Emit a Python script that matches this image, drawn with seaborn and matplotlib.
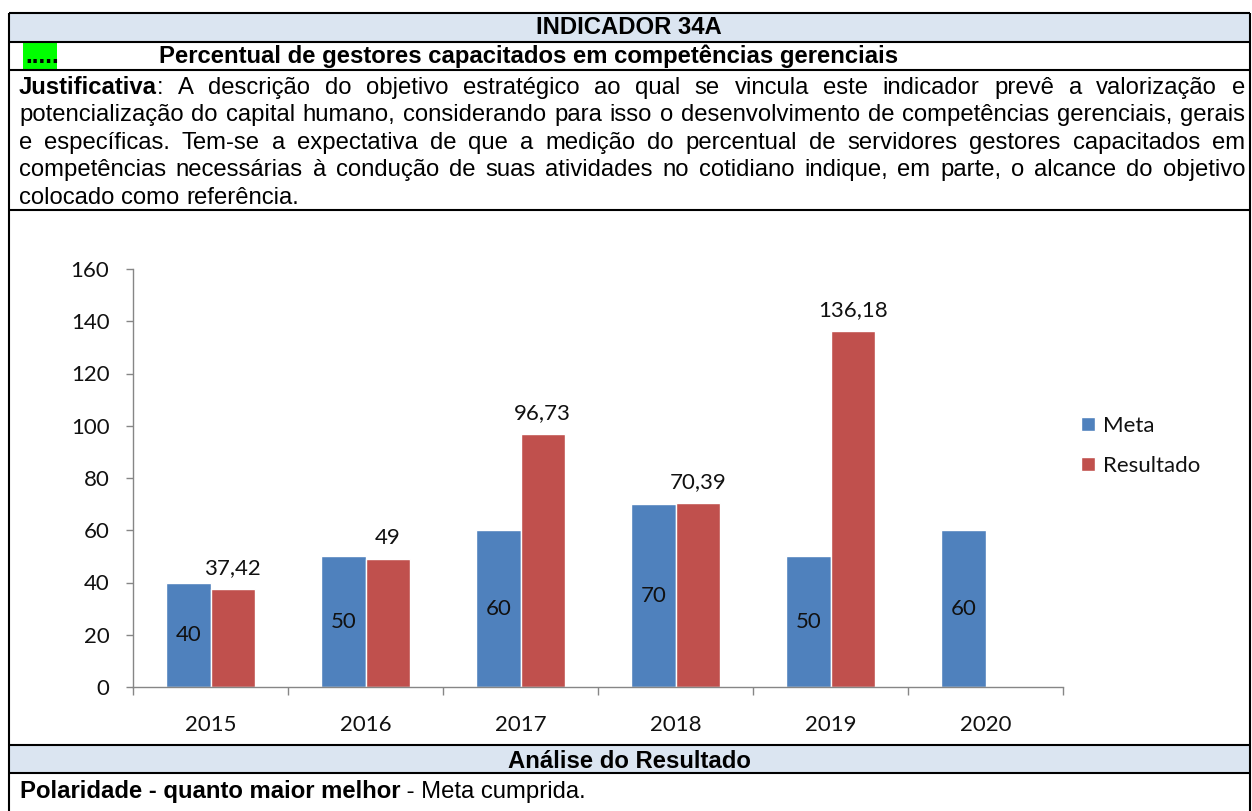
import numpy as np
import pandas as pd
import matplotlib
matplotlib.use("Agg")
import matplotlib.pyplot as plt
import seaborn as sns
from matplotlib.patches import Rectangle

# ---------------- data ----------------
anos = ["2015", "2016", "2017", "2018", "2019", "2020"]
meta = [40, 50, 60, 70, 50, 60]
resultado = [37.42, 49, 96.73, 70.39, 136.18, np.nan]
series = ["Meta", "Resultado"]
cores = ["#4F81BD", "#C0504D"]
yticks = [0, 20, 40, 60, 80, 100, 120, 140, 160]

titulo = "INDICADOR 34A"
marcador = "....."
subtitulo = "Percentual de gestores capacitados em competências gerenciais"
just_label = "Justificativa"
just_lines = [
    ": A descrição do objetivo estratégico ao qual se vincula este indicador prevê a valorização e",
    "potencialização do capital humano, considerando para isso o desenvolvimento de competências gerenciais, gerais",
    "e específicas. Tem-se a expectativa de que a medição do percentual de servidores gestores capacitados em",
    "competências necessárias à condução de suas atividades no cotidiano indique, em parte, o alcance do objetivo",
    "colocado como referência.",
]
analise_titulo = "Análise do Resultado"
polaridade_bold = "Polaridade - quanto maior melhor"
polaridade_rest = " - Meta cumprida."

# ---------------- figure ----------------
W, H = 1252, 811
sns.set_theme(style="white")
plt.rcParams["font.family"] = ["Lato", "DejaVu Sans"]
plt.rcParams["text.color"] = "black"

fig = plt.figure(figsize=(W / 100, H / 100), dpi=100)
bg = fig.add_axes([0, 0, 1, 1], zorder=0)
bg.set_xlim(0, W)
bg.set_ylim(H, 0)
bg.axis("off")

TF = ["Liberation Sans", "DejaVu Sans"]
FS = 17.2
head_bg = "#DBE5F1"
lw = 1.5

L, R, T = 8.5, 1249.5, 12.5
rows = [41.5, 70.0, 210.0, 745.0, 773.0]
bg.add_patch(Rectangle((L, T), R - L, rows[0] - T, facecolor=head_bg, edgecolor="none"))
bg.add_patch(Rectangle((L, rows[3]), R - L, rows[4] - rows[3], facecolor=head_bg, edgecolor="none"))
bg.add_patch(Rectangle((23, rows[0] + 0.5), 34, rows[1] - rows[0] - 0.5, facecolor="#00FF00", edgecolor="none"))
bg.hlines([T] + rows, L, R, color="black", lw=lw)
bg.vlines([L, R], T, H + 5, color="black", lw=lw)

bg.text((L + R) / 2, 34.5, titulo, family=TF, fontsize=FS, weight="bold", ha="center", va="baseline", color="black")
bg.text(25, 63, marcador, family=TF, fontsize=FS, weight="bold", ha="left", va="baseline", color="black")
bg.text(159, 63, subtitulo, family=TF, fontsize=FS, weight="bold", ha="left", va="baseline", color="black")
bg.text((L + R) / 2, 767.5, analise_titulo, family=TF, fontsize=FS, weight="bold", ha="center", va="baseline", color="black")

renderer = fig.canvas.get_renderer()


def width_of(t):
    return t.get_window_extent(renderer=renderer).width


tb = bg.text(20, 798, polaridade_bold, family=TF, fontsize=FS, weight="bold", ha="left", va="baseline", color="black")
bg.text(20 + width_of(tb), 798, polaridade_rest, family=TF, fontsize=FS, ha="left", va="baseline", color="black")

# justified paragraph
x0, x1 = 19, 1245
base0, lstep = 94, 27.4
probe1 = bg.text(0, -100, "x x", family=TF, fontsize=FS)
probe2 = bg.text(0, -100, "xx", family=TF, fontsize=FS)
space_w = width_of(probe1) - width_of(probe2)
probe1.remove()
probe2.remove()

for i, line in enumerate(just_lines):
    y = base0 + i * lstep
    words = line.split(" ")
    items = []
    for j, wd in enumerate(words):
        segs = []
        if i == 0 and j == 0:
            segs.append((just_label, "bold"))
        segs.append((wd, "normal"))
        arts = []
        wsum = 0
        for txt, wt in segs:
            a = bg.text(0, y, txt, family=TF, fontsize=FS, weight=wt, ha="left", va="baseline", color="black")
            w = width_of(a)
            arts.append((a, w))
            wsum += w
        items.append((arts, wsum))
    total = sum(w for _, w in items)
    last = i == len(just_lines) - 1
    gap = space_w if last or len(items) < 2 else (x1 - x0 - total) / (len(items) - 1)
    x = x0
    for arts, wsum in items:
        xx = x
        for a, w in arts:
            a.set_x(xx)
            xx += w
        x += wsum + gap

# ---------------- chart ----------------
df = pd.DataFrame({
    "Ano": anos * 2,
    "Série": [series[0]] * len(anos) + [series[1]] * len(anos),
    "Valor": meta + resultado,
})

ax = fig.add_axes([133 / W, 1 - 687 / H, (1063 - 133) / W, (687 - 269) / H], zorder=2)
ax.patch.set_alpha(0)
sns.barplot(data=df, x="Ano", y="Valor", hue="Série", order=anos, hue_order=series,
            palette=cores, saturation=1, width=0.575, errorbar=None, ax=ax)

ax.set_ylim(0, 160)
ax.set_yticks(yticks)
ax.set_xlim(-0.5, len(anos) - 0.5)
ax.set_xlabel("")
ax.set_ylabel("")
for s in ["top", "right"]:
    ax.spines[s].set_visible(False)
for s in ["left", "bottom"]:
    ax.spines[s].set_color("#868686")
    ax.spines[s].set_linewidth(1)

ax.set_xticks(np.arange(-0.5, len(anos), 1.0), minor=True)
ax.tick_params(axis="y", which="major", left=True, length=5, width=1, color="#868686",
               pad=12, labelsize=16, labelcolor="#111111")
ax.tick_params(axis="x", which="major", bottom=True, length=0, pad=20, labelsize=16, labelcolor="#111111")
ax.tick_params(axis="x", which="minor", bottom=True, length=6, width=1, color="#868686")

c_meta, c_res = ax.containers[0], ax.containers[1]
ax.bar_label(c_meta, labels=[str(v) for v in meta], label_type="center", fontsize=16, color="#111111")
res_labels = ["" if np.isnan(v) else f"{v:g}".replace(".", ",") for v in resultado]
if len(c_res) != len(res_labels):
    res_labels = [lab for lab in res_labels if lab]
ax.bar_label(c_res, labels=res_labels, label_type="edge", padding=8, fontsize=16, color="#111111")

sns.move_legend(ax, "center left", bbox_to_anchor=(1081 / W, 1 - 446 / H),
                bbox_transform=fig.transFigure, frameon=False, title="",
                fontsize=16, handlelength=0.64, handleheight=0.55, handletextpad=0.36,
                labelspacing=0.9, borderpad=0, borderaxespad=0)
for t in ax.get_legend().get_texts():
    t.set_color("#111111")

fig.savefig("out.png", dpi=100)
